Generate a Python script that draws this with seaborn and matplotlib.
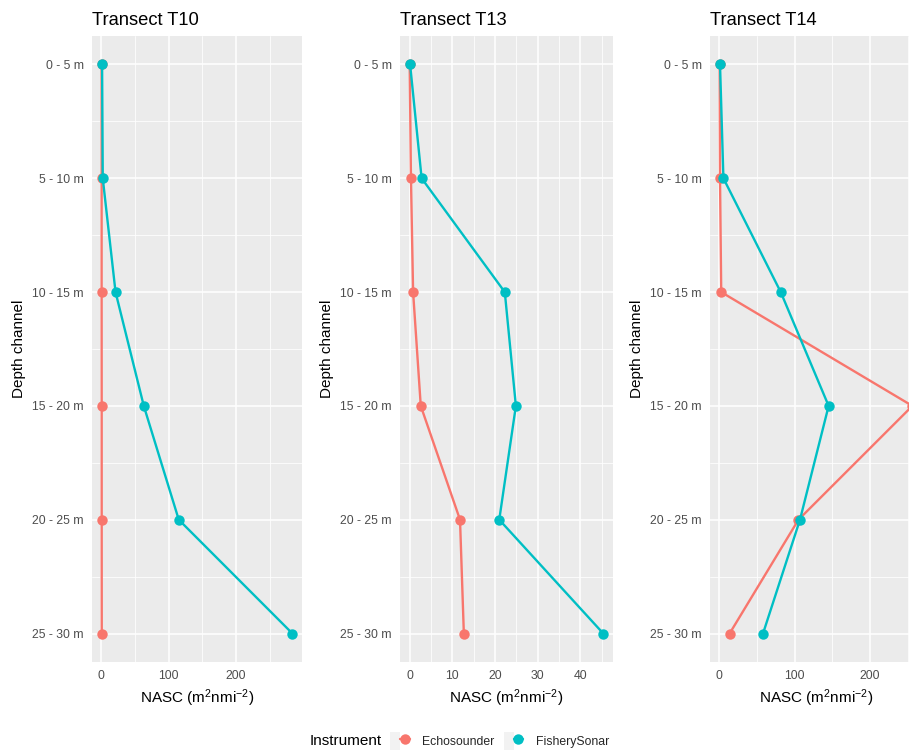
import numpy as np
import pandas as pd
import matplotlib
matplotlib.use("Agg")
import matplotlib.pyplot as plt
import seaborn as sns
from matplotlib.ticker import MultipleLocator
from matplotlib.lines import Line2D
from matplotlib.patches import Patch
from matplotlib.legend_handler import HandlerTuple

# ---- data -------------------------------------------------------------
depth_labels = ["0 - 5 m", "5 - 10 m", "10 - 15 m", "15 - 20 m", "20 - 25 m", "25 - 30 m"]
instruments = ["Echosounder", "FisherySonar"]
transects = ["T10", "T13", "T14"]

# NASC (m^2 nmi^-2) per depth channel
t10_echo = [0.2, 0.3, 0.3, 0.4, 0.4, 0.5]
t10_sonar = [1.0, 2.0, 21.0, 63.0, 115.0, 284.0]
t13_echo = [0.0, 0.3, 0.8, 2.6, 11.8, 12.7]
t13_sonar = [0.1, 2.8, 22.3, 24.9, 21.0, 45.4]
t14_echo = [0.5, 1.0, 2.6, 256.0, 105.0, 13.7]
t14_sonar = [1.0, 5.5, 81.5, 145.0, 107.0, 58.0]

x_steps = {"T10": 100, "T13": 10, "T14": 100}

series = {
    "T10": (t10_echo, t10_sonar),
    "T13": (t13_echo, t13_sonar),
    "T14": (t14_echo, t14_sonar),
}

rows = []
for tr in transects:
    for inst, vals in zip(instruments, series[tr]):
        for i, v in enumerate(vals):
            rows.append({"Transect": tr, "Instrument": inst, "depth": i, "NASC": v})
df = pd.DataFrame(rows)

# ---- style -----------------------------------------------------------
sns.set_theme(style="darkgrid")
plt.rcParams["font.family"] = ["Liberation Sans", "DejaVu Sans"]
plt.rcParams["mathtext.fontset"] = "custom"
plt.rcParams["mathtext.rm"] = "Liberation Sans"
plt.rcParams["mathtext.it"] = "Liberation Sans"

palette = {"Echosounder": "#F8766D", "FisherySonar": "#00BFC4"}
panel_bg = "#EBEBEB"
W, H = 909, 751

fig = plt.figure(figsize=(W / 100, H / 100), dpi=100)
fig.patch.set_facecolor("white")

# panel boxes in pixels: left, width
panels = {"T10": (92, 210), "T13": (400, 213), "T14": (710, 212)}
top_px, bottom_px = 36, 662

for tr in transects:
    left, width = panels[tr]
    ax = fig.add_axes([left / W, (H - bottom_px) / H, width / W, (bottom_px - top_px) / H])
    sub = df[df["Transect"] == tr]
    sns.lineplot(
        data=sub, x="NASC", y="depth", hue="Instrument", hue_order=instruments,
        palette=palette, orient="y", marker="o", markersize=7.5,
        markeredgewidth=0, linewidth=1.7, legend=False, ax=ax,
    )
    ax.set_facecolor(panel_bg)
    for s in ax.spines.values():
        s.set_visible(False)

    xmin, xmax = sub["NASC"].min(), sub["NASC"].max()
    pad = 0.05 * (xmax - xmin)
    ax.set_xlim(xmin - pad, xmax + pad)
    ax.set_ylim(5.25, -0.25)

    step = x_steps[tr]
    ax.xaxis.set_major_locator(MultipleLocator(step))
    ax.xaxis.set_minor_locator(MultipleLocator(step / 2))
    ax.set_yticks(range(len(depth_labels)))
    ax.set_yticklabels(depth_labels)
    ax.yaxis.set_minor_locator(MultipleLocator(0.5))

    ax.grid(which="major", color="white", linewidth=1.1)
    ax.grid(which="minor", color="white", linewidth=0.55)
    ax.set_axisbelow(True)

    ax.tick_params(axis="both", which="major", length=3.5, width=0.8,
                   color="#333333", labelcolor="#4D4D4D", labelsize=8.8, pad=2.5)
    ax.tick_params(axis="both", which="minor", length=0)

    ax.set_xlabel(r"NASC (m$^{2}$nmi$^{-2}$)", fontsize=11, color="black", labelpad=4)
    ax.set_ylabel("Depth channel", fontsize=11, color="black", labelpad=4)
    ax.set_title(f"Transect {tr}", loc="left", fontsize=13.2, color="black", pad=8)

# ---- legend ------------------------------------------------------------
handles = [
    (Patch(facecolor="#F2F2F2", edgecolor="none"),
     Line2D([], [], color=palette[k], linewidth=1.7, marker="o",
            markersize=7.5, markeredgewidth=0))
    for k in instruments
]
fig.text(310 / W, 1 - 741 / H, "Instrument", fontsize=11, color="black",
         ha="left", va="center")
fig.legend(
    handles, instruments, handler_map={tuple: HandlerTuple(ndivide=None, pad=0)},
    loc="center left", bbox_to_anchor=(390 / W, 1 - 741 / H), ncol=2,
    frameon=False, fontsize=8.8, handlelength=1.6, handleheight=1.8,
    handletextpad=1.0, columnspacing=0.8, borderpad=0, borderaxespad=0,
)

fig.savefig("out.png", dpi=100, facecolor="white")
